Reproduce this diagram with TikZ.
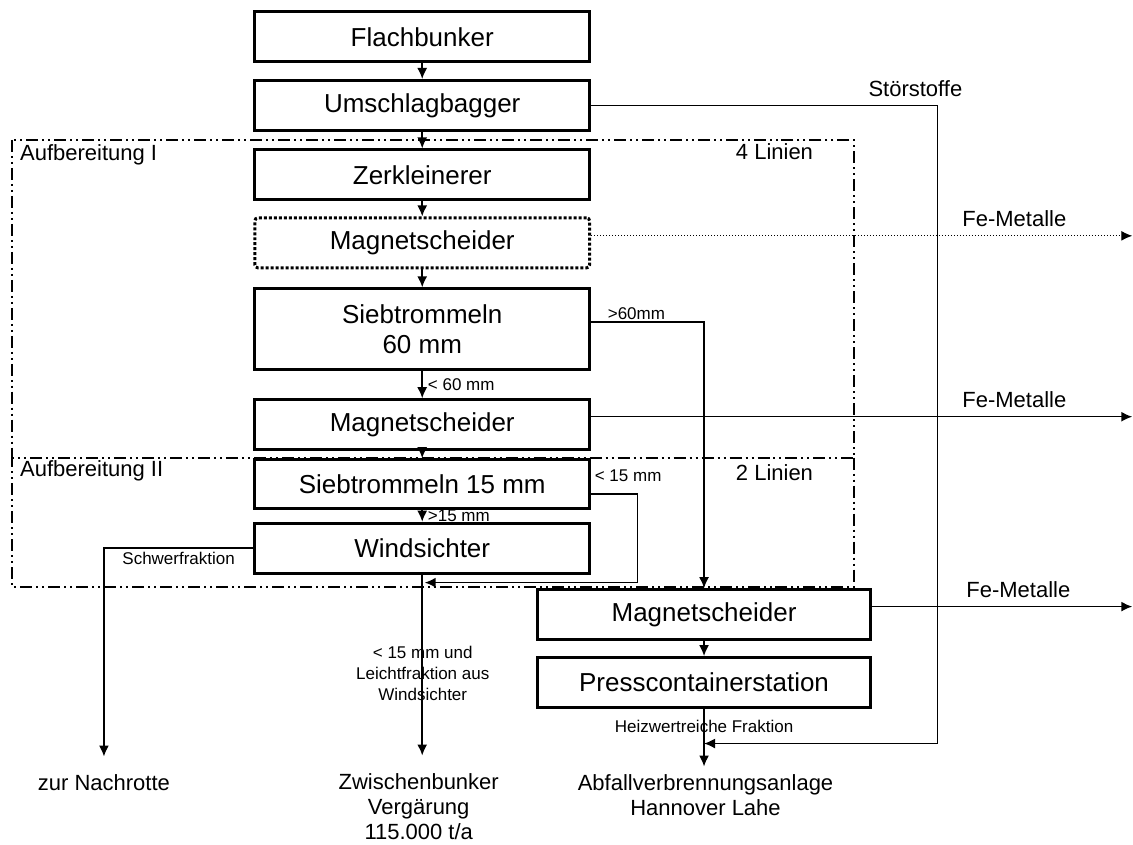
\documentclass[tikz,border=0pt]{standalone}
\usepackage{fontspec}
\setmainfont{Liberation Sans}
\usetikzlibrary{arrows.meta}

\begin{document}
\begin{tikzpicture}[x=1pt,y=-1pt]
  \tikzset{box/.style = {shape=rectangle,draw,line width=3pt,minimum width=335pt,minimum height=50pt,inner sep=0pt,fill=white,font=\fontsize{26}{30}\selectfont}}
  \tikzset{flow/.style = {-{Latex[length=11pt,width=10pt]},line width=1.5pt}}
  \tikzset{zone/.style = {line width=2pt,dash pattern=on 12pt off 4pt on 2pt off 4pt on 2pt off 4pt}}
  \tikzset{lab/.style = {inner sep=0pt,font=\fontsize{22}{25}\selectfont}}
  \tikzset{note/.style = {inner sep=0pt,font=\fontsize{17}{21}\selectfont}}

  \fill[white] (0,0) rectangle (1133,845);

  % Aufbereitung I / II
  \draw[zone] (12,140) rectangle (855,458);
  \draw[zone] (855,458) -- (855,587) -- (12,587) -- (12,458);
  \node[lab,anchor=west] (aufI) at (20,155) {Aufbereitung I};
  \node[lab,anchor=west] (aufII) at (20,471) {Aufbereitung II};
  \node[lab] (linien4) at (775,152) {4 Linien};
  \node[lab] (linien2) at (775,473) {2 Linien};

	\node[box] (flach) at (422.5,37) {Flachbunker};
	\node[box] (umschlag) at (422.5,105.5) {Umschlagbagger};
	\node[box] (zerkl) at (422.5,175) {Zerkleinerer};
	\node[box,dotted,rounded corners=3pt] (magA) at (422.5,243) {Magnetscheider};
	\node[box,minimum height=81pt,align=center] (sieb60) at (422.5,329.5) {Siebtrommeln\\60 mm};
	\node[box] (magB) at (422.5,425) {Magnetscheider};
	\node[box,minimum height=49pt] (sieb15) at (422.5,484.5) {Siebtrommeln 15 mm};
	\node[box] (wind) at (422.5,548.5) {Windsichter};
	\node[box,minimum width=333pt] (magC) at (704.5,615) {Magnetscheider};
	\node[box,minimum width=333pt] (press) at (704.5,683) {Presscontainerstation};

  \node[lab,anchor=north] (nach) at (104,775) {zur Nachrotte};
  \node[lab,anchor=north,align=center] (zwischen) at (419,774) {Zwischenbunker\\Vergärung\\115.000 t/a};
  \node[lab,anchor=north,align=center] (ava) at (706,775) {Abfallverbrennungsanlage\\Hannover Lahe};
  \node[note,align=center] (leicht) at (423,674) {< 15 mm und\\Leichtfraktion aus\\Windsichter};

  \node[lab] (stoerLbl) at (916,89) {Störstoffe};
  \node[lab] (feALbl) at (1015,219) {Fe-Metalle};
  \node[lab] (feBLbl) at (1015,400) {Fe-Metalle};
  \node[lab] (feCLbl) at (1019,590) {Fe-Metalle};

  \coordinate (feA) at (1133,236);
  \coordinate (feB) at (1133,417);
  \coordinate (feC) at (1133,607);
  \coordinate (corner) at (938,744);
  \coordinate (merge) at (704.5,744);
  \coordinate (rueck) at (638,583);
  \coordinate (join) at (425,583);

       \foreach \from/\to in {flach/umschlag, umschlag/zerkl, zerkl/magA, magA/sieb60, magB/sieb15, magC/press}
    \draw[flow] (\from) -- (\to);
  \draw[flow] (sieb60) -- node[note,right=5pt]{< 60 mm} (magB);
  \draw[flow] (sieb15) -- node[note,right=5pt]{>15 mm} (wind);

  \draw[flow] ([yshift=7.5pt]sieb60.east) -| node[note,pos=0,anchor=south west,xshift=16pt,yshift=1pt]{>60mm} (magC.north);
  \draw[flow] ([yshift=-10pt]sieb15.east) -| node[note,pos=0,anchor=south west,xshift=3pt,yshift=12pt]{< 15 mm} (rueck) -- (join);
  \draw[flow] (umschlag.east) -| (corner) -- (merge);

  \draw[flow,line width=1pt,dotted] ([yshift=7pt]magA.east) -- (feA);
  \draw[flow] ([yshift=8pt]magB.east) -- (feB);
  \draw[flow] ([yshift=8pt]magC.east) -- (feC);

  \draw[flow,shorten >=18pt] (wind.west) -| node[note,pos=0.25,below=3pt]{Schwerfraktion} (nach.north);
  \draw[flow,shorten >=18pt] (wind.south) -- (wind.south |- zwischen.north);
  \draw[flow,shorten >=8pt] (press.south) -- node[note,pos=0.26]{Heizwertreiche Fraktion} (press.south |- ava.north);
\end{tikzpicture}
\end{document}
